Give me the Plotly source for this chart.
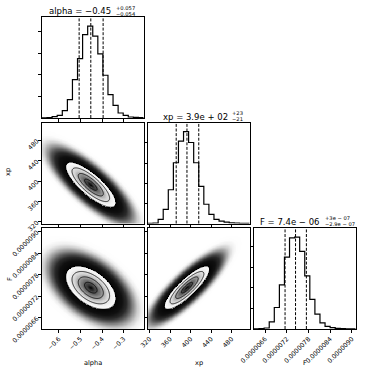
import numpy as np
import plotly.graph_objects as go

W, H = 374, 372

# ---------------- data ----------------
names = ["alpha", "xp", "F"]
alpha_range = [-0.678, -0.208]
xp_range = [317.0, 515.0]
F_range = [6.29e-6, 9.10e-6]

# 20-bin step histograms (counts)
alpha_counts = [8, 16, 62, 124, 341, 854, 1785, 2763, 3881, 4269,
                3803, 2980, 1987, 1087, 590, 233, 124, 47, 31, 16]
xp_counts = [5, 17, 201, 704, 1675, 3015, 4087, 4556, 4020, 3015,
             1843, 955, 452, 201, 117, 67, 34, 17, 8, 5]
F_counts = [5, 16, 49, 342, 1043, 2135, 3488, 4417, 4450, 3765,
            2575, 1434, 717, 293, 130, 65, 33, 16, 8, 5]

# 16 / 50 / 84 % quantiles (dashed lines)
alpha_q = [-0.506, -0.452, -0.395]
xp_q = [372.0, 393.0, 416.0]
F_q = [7.15e-6, 7.44e-6, 7.74e-6]

# spread and pair correlations of the 2-D clouds
alpha_sd = 0.058
xp_sd = 22.0
F_sd = 0.30e-6
rho_alpha_xp = -0.80
rho_alpha_F = -0.50
rho_xp_F = 0.85

# tick values / labels
alpha_ticks = [-0.6, -0.5, -0.4, -0.3]
alpha_ticktext = ["\u22120.6", "\u22120.5", "\u22120.4", "\u22120.3"]
xp_ticks = [320, 360, 400, 440, 480]
xp_ticktext = ["320", "360", "400", "440", "480"]
F_ticks = [6.6e-6, 7.2e-6, 7.8e-6, 8.4e-6, 9.0e-6]
F_ticktext = ["0.0000066", "0.0000072", "0.0000078", "0.0000084", "0.0000090"]
hist_ticks = [1000, 2000, 3000, 4000]

# titles: main text, superscript, subscript
title_main = ["alpha = \u22120.45", "xp = 3.9e + 02", "F = 7.4e \u2212 06"]
title_sup = ["+0.057", "+23", "+3e \u2212 07"]
title_sub = ["\u22120.054", "\u221221", "\u22122.9e \u2212 07"]

# ---------------- assembly ----------------
ranges = [alpha_range, xp_range, F_range]
counts = [alpha_counts, xp_counts, F_counts]
quants = [alpha_q, xp_q, F_q]
sds = [alpha_sd, xp_sd, F_sd]
rhos = {(0, 1): rho_alpha_xp, (0, 2): rho_alpha_F, (1, 2): rho_xp_F}
tickv = [alpha_ticks, xp_ticks, F_ticks]
tickt = [alpha_ticktext, xp_ticktext, F_ticktext]

FONT = "DejaVu Sans"
BLACK = "#000000"
cols = [(42, 143.5), (148, 249.5), (254, 355.5)]
rows = [(17, 118), (122.5, 223.5), (228, 329)]
panels = [(0, 0), (1, 0), (1, 1), (2, 0), (2, 1), (2, 2)]


def gray(v):
    return "rgb(%d,%d,%d)" % (v, v, v)


ZMAX = 5.0
stops = [(0.0, 0), (0.3, 60), (0.5, 88), (0.75, 125), (1.0, 165), (1.25, 205),
         (1.5, 230), (1.75, 244), (1.995, 250),
         (2.0, 5), (2.5, 16), (2.85, 42), (3.15, 92), (3.45, 152), (3.75, 205),
         (4.05, 238), (4.4, 253), (5.0, 255)]
cscale = [[r / ZMAX, gray(v)] for r, v in stops]

fig = go.Figure()
layout = dict(template="none", width=W, height=H, autosize=False,
              margin=dict(l=0, r=0, t=0, b=0),
              paper_bgcolor="white", plot_bgcolor="white",
              showlegend=False, font=dict(family=FONT, color=BLACK))
shapes = []
annotations = []

axis_common = dict(showline=True, linecolor=BLACK, linewidth=0.8, mirror=True,
                   ticks="outside", ticklen=3, tickwidth=0.8, tickcolor=BLACK,
                   showgrid=False, zeroline=False,
                   tickfont=dict(family=FONT, size=6.3, color=BLACK))

for k, (i, j) in enumerate(panels, start=1):
    xa = "x" if k == 1 else "x%d" % k
    ya = "y" if k == 1 else "y%d" % k
    xkey = "xaxis" if k == 1 else "xaxis%d" % k
    ykey = "yaxis" if k == 1 else "yaxis%d" % k
    layout[xkey] = dict(axis_common, domain=[cols[j][0] / W, cols[j][1] / W],
                        anchor=ya, range=ranges[j], tickvals=tickv[j],
                        ticktext=tickt[j], showticklabels=(i == 2),
                        tickangle=-45)
    if i == j:
        c = counts[i]
        lo, hi = ranges[i]
        edges = np.linspace(lo, hi, len(c) + 1)
        xs = [edges[0], edges[0]] + list(edges[1:]) + [edges[-1]]
        ys = [0] + list(c) + [c[-1], 0]
        fig.add_trace(go.Scatter(x=xs, y=ys, mode="lines",
                                 line=dict(color=BLACK, width=1.2, shape="hv"),
                                 xaxis=xa, yaxis=ya, hoverinfo="skip"))
        layout[ykey] = dict(axis_common, domain=[1 - rows[i][1] / H, 1 - rows[i][0] / H],
                            anchor=xa, range=[0, 1.1 * max(c)], tickvals=hist_ticks,
                            showticklabels=False)
        for q in quants[i]:
            shapes.append(dict(type="line", xref=xa, yref=ya + " domain",
                               x0=q, x1=q, y0=0, y1=1,
                               line=dict(color=BLACK, width=1, dash="3px,1.6px")))
    else:
        n = 180
        gx = np.linspace(ranges[j][0], ranges[j][1], n)
        gy = np.linspace(ranges[i][0], ranges[i][1], n)
        X, Y = np.meshgrid(gx, gy)
        dx = (X - quants[j][1]) / sds[j]
        dy = (Y - quants[i][1]) / sds[i]
        rho = rhos[(j, i)]
        r = np.sqrt((dx * dx - 2 * rho * dx * dy + dy * dy) / (1 - rho * rho))
        fig.add_trace(go.Heatmap(x=gx, y=gy, z=np.minimum(r, ZMAX), zmin=0, zmax=ZMAX,
                                 colorscale=cscale, showscale=False, zsmooth=False,
                                 xaxis=xa, yaxis=ya, hoverinfo="skip"))
        fig.add_trace(go.Contour(x=gx, y=gy, z=r, autocontour=False,
                                 contours=dict(start=0.5, end=2.0, size=0.5,
                                               coloring="none"),
                                 line=dict(color=BLACK, width=0.8),
                                 showscale=False, xaxis=xa, yaxis=ya,
                                 hoverinfo="skip"))
        layout[ykey] = dict(axis_common, domain=[1 - rows[i][1] / H, 1 - rows[i][0] / H],
                            anchor=xa, range=ranges[i], tickvals=tickv[i],
                            ticktext=tickt[i], showticklabels=(j == 0),
                            tickangle=-45)

# titles above the diagonal panels
title_x = [113.0, 229.5, 322.0]
title_y = [11.0, 116.5, 221.5]
for d in range(3):
    annotations.append(dict(text=title_main[d], x=title_x[d] / W, y=1 - title_y[d] / H,
                            xref="paper", yref="paper", xanchor="right", yanchor="middle",
                            showarrow=False, font=dict(family=FONT, size=8.5, color=BLACK)))
    annotations.append(dict(text=title_sup[d], x=(title_x[d] + 0.5) / W,
                            y=1 - (title_y[d] - 3.3) / H,
                            xref="paper", yref="paper", xanchor="left", yanchor="middle",
                            showarrow=False, font=dict(family=FONT, size=5.2, color=BLACK)))
    annotations.append(dict(text=title_sub[d], x=(title_x[d] + 0.5) / W,
                            y=1 - (title_y[d] + 2.6) / H,
                            xref="paper", yref="paper", xanchor="left", yanchor="middle",
                            showarrow=False, font=dict(family=FONT, size=5.2, color=BLACK)))

# axis labels
xlab_pos = [(92.5, 363), (199, 363), (305, 362.5)]
for d in range(3):
    annotations.append(dict(text=names[d], x=xlab_pos[d][0] / W, y=1 - xlab_pos[d][1] / H,
                            xref="paper", yref="paper", xanchor="center", yanchor="middle",
                            showarrow=False, font=dict(family=FONT, size=6.6, color=BLACK)))
ylab_pos = [(8.5, 172.5), (10, 279)]
for d in range(2):
    annotations.append(dict(text=names[d + 1], x=ylab_pos[d][0] / W, y=1 - ylab_pos[d][1] / H,
                            xref="paper", yref="paper", xanchor="center", yanchor="middle",
                            textangle=-90, showarrow=False,
                            font=dict(family=FONT, size=6.6, color=BLACK)))

layout["shapes"] = shapes
layout["annotations"] = annotations
fig.update_layout(**layout)

fig.write_html("out.html", config={"displayModeBar": False},
               post_script="document.body.style.margin='0';document.body.style.overflow='hidden';")
